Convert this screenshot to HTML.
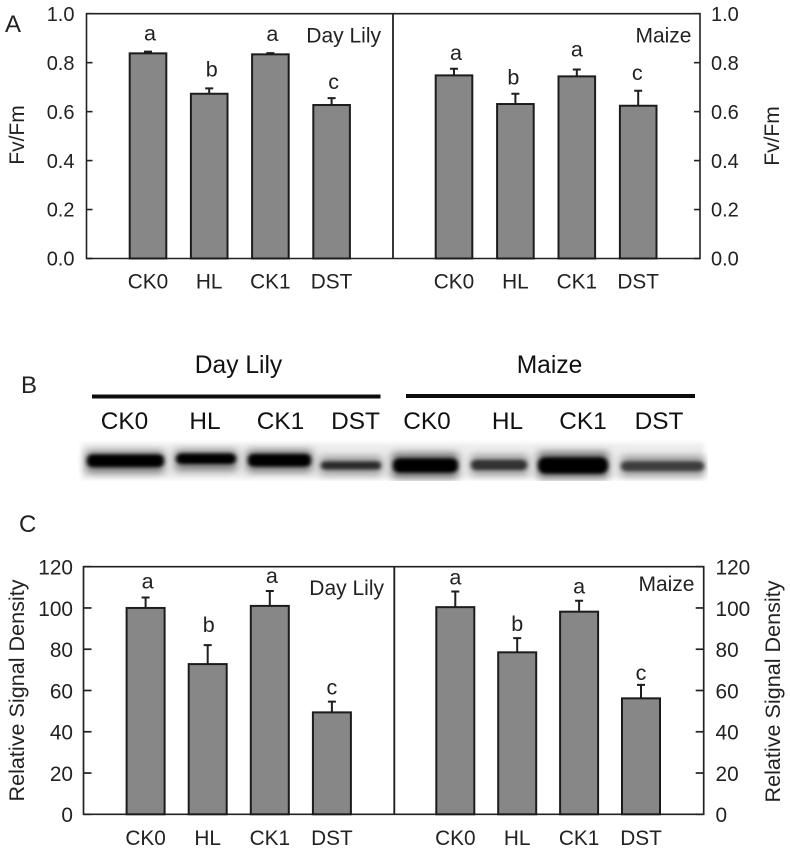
<!DOCTYPE html>
<html>
<head>
<meta charset="utf-8">
<title>Fv/Fm and relative signal density</title>
<style>
  html, body { margin: 0; padding: 0; background: #fff; }
  svg { display: block; font-family: "Liberation Sans", Arial, sans-serif; fill: #222; }
</style>
</head>
<body>
<svg id="figure" xmlns="http://www.w3.org/2000/svg" width="790" height="850" viewBox="0 0 790 850">
  <defs>
    <filter id="blur-halo" x="-30%" y="-150%" width="160%" height="400%"><feGaussianBlur stdDeviation="4.5 4"/></filter>
    <filter id="blur-core" x="-30%" y="-150%" width="160%" height="400%"><feGaussianBlur stdDeviation="2.2 1.5"/></filter>
    <filter id="blur-edge" x="-5%" y="-40%" width="110%" height="180%"><feGaussianBlur stdDeviation="2"/></filter>
    <clipPath id="blot-clip"><rect x="78" y="440" width="630" height="41"/></clipPath>
  </defs>
  <rect width="790" height="850" fill="#fff"/>

  <text x="5" y="32" font-size="24">A</text>
  <text x="21" y="393" font-size="24">B</text>
  <text x="19" y="532" font-size="24">C</text>

  <g id="panel-a"></g>

  <g id="panel-b" fill="#111">
    <text x="238.5" y="373" font-size="24.6" text-anchor="middle" style="fill:#111">Day Lily</text>
    <text x="549.5" y="373" font-size="24.6" text-anchor="middle" style="fill:#111">Maize</text>
    <rect x="92" y="394.5" width="288.5" height="4" fill="#0c0c0c"/>
    <rect x="406" y="394" width="289" height="4" fill="#0c0c0c"/>
    <text x="124.5" y="429" font-size="24.4" text-anchor="middle" style="fill:#111">CK0</text>
    <text x="205" y="429" font-size="24.4" text-anchor="middle" style="fill:#111">HL</text>
    <text x="280.5" y="429" font-size="24.4" text-anchor="middle" style="fill:#111">CK1</text>
    <text x="355.5" y="429" font-size="24.4" text-anchor="middle" style="fill:#111">DST</text>
    <text x="427" y="429" font-size="24.4" text-anchor="middle" style="fill:#111">CK0</text>
    <text x="507.5" y="429" font-size="24.4" text-anchor="middle" style="fill:#111">HL</text>
    <text x="583" y="429" font-size="24.4" text-anchor="middle" style="fill:#111">CK1</text>
    <text x="659" y="429" font-size="24.4" text-anchor="middle" style="fill:#111">DST</text>

    <g clip-path="url(#blot-clip)">
      <rect x="82" y="443" width="622" height="36" fill="#eeeeee" filter="url(#blur-edge)"/>
      <g filter="url(#blur-halo)">
        <rect x="86" y="451" width="78" height="22" fill="#777"/>
        <rect x="175" y="450" width="62" height="21" fill="#7e7e7e"/>
        <rect x="247" y="450" width="65" height="22" fill="#777"/>
        <rect x="320" y="456" width="62" height="19" fill="#9c9c9c"/>
        <rect x="392" y="453" width="66" height="25" fill="#6a6a6a"/>
        <rect x="471" y="455" width="57" height="20" fill="#969696"/>
        <rect x="538" y="452" width="70" height="26" fill="#666"/>
        <rect x="621" y="456" width="83" height="20" fill="#969696"/>
      </g>
      <g filter="url(#blur-core)">
        <rect x="87" y="454.5" width="77" height="12.5" rx="5" fill="#000"/>
        <rect x="176" y="453.5" width="60" height="10.5" rx="5" fill="#000"/>
        <rect x="248" y="454" width="63" height="12.5" rx="5" fill="#000"/>
        <rect x="321" y="461.5" width="60" height="8" rx="3.5" fill="#2c2c2c"/>
        <rect x="393" y="458.5" width="65" height="14" rx="6" fill="#000"/>
        <rect x="471" y="460" width="56" height="10" rx="4.5" fill="#333"/>
        <rect x="538" y="457.5" width="70" height="16" rx="7" fill="#000"/>
        <rect x="621" y="461.5" width="83" height="9.5" rx="4.5" fill="#3c3c3c"/>
      </g>
    </g>
  </g>

  <g id="panel-c"></g>
</svg>

<script>
// Shared categories
const categories = ["CK0", "HL", "CK1", "DST"];

// Panel A data (Fv/Fm)
const fvFmTicks = ["0.0", "0.2", "0.4", "0.6", "0.8", "1.0"];
const fvFmDayLily = [0.838, 0.673, 0.834, 0.627];
const fvFmDayLilyError = [0.007, 0.022, 0.005, 0.028];
const fvFmDayLilyLetters = ["a", "b", "a", "c"];
const fvFmMaize = [0.748, 0.631, 0.744, 0.624];
const fvFmMaizeError = [0.027, 0.042, 0.028, 0.061];
const fvFmMaizeLetters = ["a", "b", "a", "c"];

// Panel C data (Relative signal density)
const densityTicks = ["0", "20", "40", "60", "80", "100", "120"];
const densityDayLily = [100, 72.8, 101, 49.4];
const densityDayLilyError = [5.1, 9.2, 7.2, 5.2];
const densityDayLilyLetters = ["a", "b", "a", "c"];
const densityMaize = [100.4, 78.5, 98.2, 56.2];
const densityMaizeError = [7.6, 6.9, 5.3, 6.5];
const densityMaizeLetters = ["a", "b", "a", "c"];

const NS = "http://www.w3.org/2000/svg";
const INK = "#222";

function make(parent, tag, attrs, content) {
  const el = document.createElementNS(NS, tag);
  for (const k in attrs) el.setAttribute(k, attrs[k]);
  if (content !== undefined) el.textContent = content;
  parent.appendChild(el);
  return el;
}

function drawChart(root, cfg) {
  const domainMax = Number(cfg.ticks[cfg.ticks.length - 1]);
  const yScale = v => cfg.bottom - (v / domainMax) * (cfg.bottom - cfg.top);

  // frame
  const frame = make(root, "path", {
    d: `M${cfg.left} ${cfg.top}H${cfg.right}V${cfg.bottom}H${cfg.left}Z`,
    fill: "none", stroke: INK, "stroke-width": cfg.axisWidth
  });
  
  

  // ticks
  cfg.ticks.forEach(label => {
    const y = yScale(Number(label));

    const tl = make(root, "line", { x1: cfg.left, x2: cfg.left + cfg.tickLen, y1: y, y2: y, stroke: INK, "stroke-width": cfg.axisWidth });
    
    

    const tr = make(root, "line", { x1: cfg.right, x2: cfg.right - cfg.tickLen, y1: y, y2: y, stroke: INK, "stroke-width": cfg.axisWidth });
    
    

    const ll = make(root, "text", { x: cfg.leftLabelX, y: y + cfg.tickBase, "font-size": cfg.tickFont, "text-anchor": "end", style: "fill:" + INK }, label);
    
    

    const lr = make(root, "text", { x: cfg.rightLabelX, y: y + cfg.tickBase, "font-size": cfg.tickFont, style: "fill:" + INK }, label);
    
    
  });

  // split line
  const split = make(root, "line", { x1: cfg.split, x2: cfg.split, y1: cfg.top, y2: cfg.bottom, stroke: INK, "stroke-width": cfg.axisWidth + 0.2 });
  
  

  // y titles
  const t1 = make(root, "text", { transform: `translate(${cfg.titleLeftX} ${cfg.titleY}) rotate(-90)`, "font-size": cfg.titleFont, "text-anchor": "middle", style: "fill:" + INK }, cfg.yTitle);
  
  

  const t2 = make(root, "text", { transform: `translate(${cfg.titleRightX} ${cfg.titleY + 1}) rotate(-90)`, "font-size": cfg.titleFont, "text-anchor": "middle", style: "fill:" + INK }, cfg.yTitle);
  
  

  // series
  cfg.groups.forEach(group => {
    const label = make(root, "text", { x: group.labelX, y: group.labelY, "font-size": 21, "text-anchor": "end", style: "fill:" + INK }, group.name);
    
    

    categories.forEach((cat, i) => {
      const cx = group.x0 + i * group.step;
      const yTop = yScale(group.values[i]);
      const yErr = yScale(group.values[i] + group.errors[i]);

      const err = make(root, "path", {
        d: `M${cx} ${yTop}V${yErr}M${cx - 4} ${yErr}H${cx + 4}`,
        fill: "none", stroke: "#1e1e1e", "stroke-width": 2
      });
      
      

      const bar = make(root, "rect", {
        x: cx - cfg.barWidth / 2, y: yTop, width: cfg.barWidth, height: cfg.bottom - yTop,
        fill: "#878787", stroke: "#1c1c1c", "stroke-width": 2
      });
      
      

      const letter = make(root, "text", {
        x: cx + group.letterDx[i], y: yErr - group.letterGap[i],
        "font-size": 21.5, "text-anchor": "middle", style: "fill:" + INK
      }, group.letters[i]);
      
      

      const xl = make(root, "text", {
        x: cx + group.catDx, y: cfg.catY, "font-size": cfg.catFont, "text-anchor": "middle", style: "fill:" + INK
      }, cat);
      
      
    });
  });
}

drawChart(document.getElementById("panel-a"), {
  left: 86.5, right: 700, split: 393, top: 13.7, bottom: 258.5,
  ticks: fvFmTicks, tickLen: 6, axisWidth: 1.6, tickFont: 20, tickBase: 7.2,
  leftLabelX: 74.5, rightLabelX: 711, catFont: 20.8, catY: 288.5,
  barWidth: 36.6, yTitle: "Fv/Fm", titleFont: 21, titleLeftX: 24, titleRightX: 779, titleY: 135,
  groups: [
    { name: "Day Lily", values: fvFmDayLily, errors: fvFmDayLilyError, letters: fvFmDayLilyLetters,
      x0: 148, step: 61.2, labelX: 381, labelY: 42.5, catDx: 0,
      letterDx: [2, 2.5, 2, 2], letterGap: [11, 12, 12, 9] },
    { name: "Maize", values: fvFmMaize, errors: fvFmMaizeError, letters: fvFmMaizeLetters,
      x0: 454, step: 61.4, labelX: 691.5, labelY: 42.5, catDx: 0,
      letterDx: [2, -2, 0, -1], letterGap: [9, 9, 13, 11] }
  ]
});

drawChart(document.getElementById("panel-c"), {
  left: 83.5, right: 703.7, split: 394.3, top: 566.7, bottom: 814.3,
  ticks: densityTicks, tickLen: 8, axisWidth: 1.7, tickFont: 20.8, tickBase: 7.8,
  leftLabelX: 73, rightLabelX: 715.5, catFont: 20.8, catY: 845,
  barWidth: 38, yTitle: "Relative Signal Density", titleFont: 21.6, titleLeftX: 24, titleRightX: 780, titleY: 690.5,
  groups: [
    { name: "Day Lily", values: densityDayLily, errors: densityDayLilyError, letters: densityDayLilyLetters,
      x0: 145.6, step: 62.1, labelX: 384, labelY: 595, catDx: 0,
      letterDx: [2, 1, 2, 0], letterGap: [9, 13, 8, 7] },
    { name: "Maize", values: densityMaize, errors: densityMaizeError, letters: densityMaizeLetters,
      x0: 455.3, step: 61.9, labelX: 694.5, labelY: 591, catDx: 0,
      letterDx: [0, 0, 0, 0], letterGap: [7, 7, 7, 5] }
  ]
});
</script>
</body>
</html>
